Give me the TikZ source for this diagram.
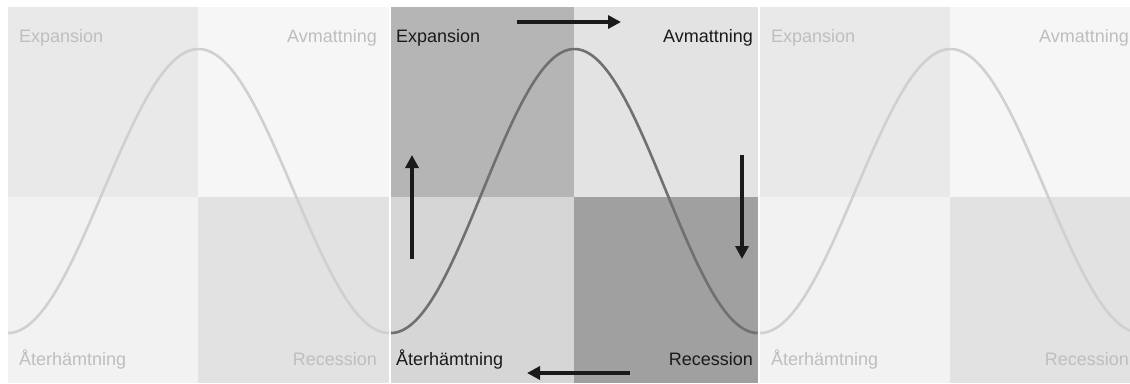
\documentclass[tikz,border=0pt]{standalone}
\usepackage{fontspec}
\setmainfont{Liberation Sans}
\usetikzlibrary{arrows.meta}
\definecolor{fadeTL}{RGB}{233,233,233}
\definecolor{fadeTR}{RGB}{246,246,246}
\definecolor{fadeBL}{RGB}{242,242,242}
\definecolor{fadeBR}{RGB}{226,226,226}
\definecolor{fadeline}{RGB}{208,208,208}
\definecolor{fadetext}{RGB}{190,190,190}
\definecolor{mainTL}{RGB}{181,181,181}
\definecolor{mainTR}{RGB}{227,227,227}
\definecolor{mainBL}{RGB}{214,214,214}
\definecolor{mainBR}{RGB}{160,160,160}
\definecolor{mainline}{RGB}{112,112,112}
\definecolor{maintext}{RGB}{26,26,26}

\tikzset{
  phase/.style={font=\fontsize{18}{20}\selectfont, inner sep=0pt},
  wave/.style={line width=2.6pt},
  flow/.style={line width=3.3pt, draw=maintext, -{Triangle[length=13pt,width=13pt]}}
}

\begin{document}
\begin{tikzpicture}[x=1pt,y=-1pt]
  \clip (0,0) rectangle (1130,383);
  \fill[white] (0,0) rectangle (1130,383);

  % faded side panels
  \foreach \px/\pn in {8/L, 760/R}{
    \fill[fadeTL] (\px,7) rectangle ++(190,190);
    \fill[fadeTR] (\px+190,7) rectangle ++(191,190);
    \fill[fadeBL] (\px,197) rectangle ++(190,186);
    \fill[fadeBR] (\px+190,197) rectangle ++(191,186);
    \draw[wave, fadeline] plot[domain=0:381, samples=120, smooth] ({\px+\x}, {191+142*cos(0.94488*\x)});
    \node[phase, text=fadetext, anchor=base west] (exp\pn) at (\px+11,42) {Expansion};
    \node[phase, text=fadetext, anchor=base east] (avm\pn) at (\px+369,42) {Avmattning};
    \node[phase, text=fadetext, anchor=base west] (ater\pn) at (\px+11,365) {Återhämtning};
    \node[phase, text=fadetext, anchor=base east] (rec\pn) at (\px+369,365) {Recession};
  }

  % middle panel
  \fill[mainTL] (391,7) rectangle (574,197);
  \fill[mainTR] (574,7) rectangle (757.7,197);
  \fill[mainBL] (391,197) rectangle (574,383);
  \fill[mainBR] (574,197) rectangle (757.7,383);
  \draw[wave, mainline] plot[domain=0:366.7, samples=120, smooth] ({391+\x}, {191+142*cos(0.98173*\x)});
  \node[phase, text=maintext, anchor=base west] (exp) at (396,42) {Expansion};
  \node[phase, text=maintext, anchor=base east] (avm) at (753,42) {Avmattning};
  \node[phase, text=maintext, anchor=base west] (ater) at (396,365) {Återhämtning};
  \node[phase, text=maintext, anchor=base east] (rec) at (753,365) {Recession};

  % cycle arrows
  \coordinate (topS) at (517,22);  \coordinate (topE) at (621,22);
  \coordinate (rgtS) at (742,155); \coordinate (rgtE) at (742,259);
  \coordinate (botS) at (630,373); \coordinate (botE) at (527,373);
  \coordinate (lftS) at (412,259); \coordinate (lftE) at (412,155);
  \draw[flow] (topS) -- (topE);
  \draw[flow] (rgtS) -- (rgtE);
  \draw[flow] (botS) -- (botE);
  \draw[flow] (lftS) -- (lftE);
\end{tikzpicture}
\end{document}
